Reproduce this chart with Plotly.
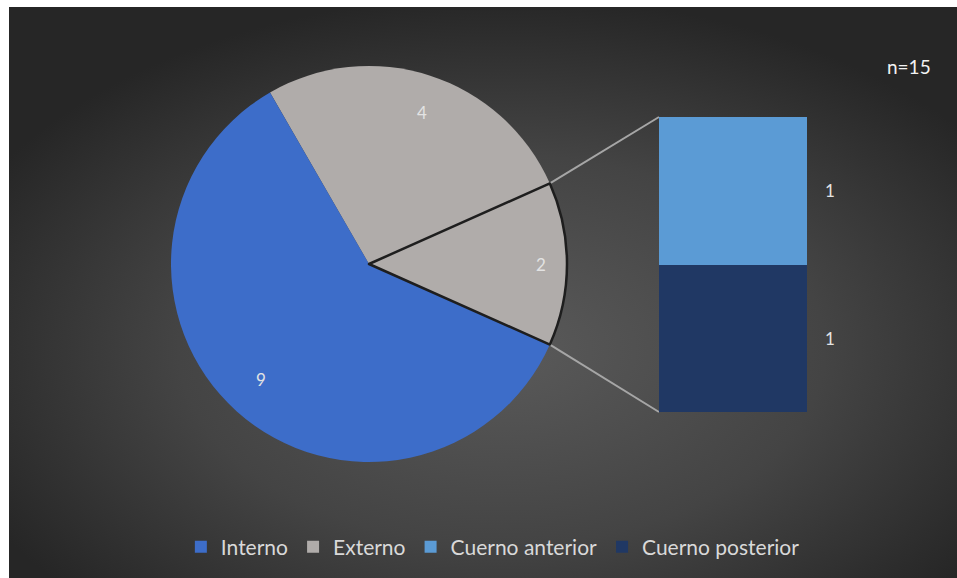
import base64
import math
import plotly.graph_objects as go

# ---- data ----
pie_labels = ["Externo", "Interno", "Otros"]
pie_values = [4, 9, 2]
pie_colors = ["#b0acaa", "#3d6dc9", "#b0acaa"]
split_index = 2   # the slice that is broken out into the bar

bar_labels = ["Cuerno posterior", "Cuerno anterior"]   # bottom -> top
bar_values = [1, 1]
bar_colors = ["#203864", "#5b9bd5"]

legend_labels = ["Interno", "Externo", "Cuerno anterior", "Cuerno posterior"]
legend_colors = {"Interno": "#3d6dc9", "Externo": "#b0acaa",
                 "Cuerno anterior": "#5b9bd5", "Cuerno posterior": "#203864"}
note_text = "n=15"

W, H = 957, 578
FONT = "Lato"
LABEL_COLOR = "#e3e3e3"

# ---- geometry (pixels) ----
cx, cy, R = 369, 264, 198
bar_x0, bar_x1, bar_top, bar_bot = 659, 807, 117, 412


def px(x):
    return x / W


def py(y):
    return 1 - y / H


total = sum(pie_values)
split_share = pie_values[split_index] / total * 360.0
before_split = sum(pie_values[:split_index]) / total * 360.0
# the split slice is centred on 3 o'clock; slices run counterclockwise
start_math = (-split_share / 2.0 - before_split) % 360.0
first_share = pie_values[0] / total * 360.0
# plotly (counterclockwise): first slice spans clockwise angles [rotation, rotation + share]
rotation = 90 - start_math - first_share

line_colors = ["rgba(0,0,0,0)"] * len(pie_values)
line_widths = [0] * len(pie_values)
line_colors[split_index] = "#1e1e1e"
line_widths[split_index] = 2.5

fig = go.Figure()

fig.add_trace(go.Pie(
    labels=pie_labels, values=pie_values, sort=False,
    direction="counterclockwise", rotation=rotation,
    marker=dict(colors=pie_colors, line=dict(color=line_colors, width=line_widths)),
    textinfo="none", hoverinfo="label+value", showlegend=False,
    domain=dict(x=[px(cx - R), px(cx + R)], y=[py(cy + R), py(cy - R)]),
))

# stacked bar for the split-off slice
for lab, val, col in zip(bar_labels, bar_values, bar_colors):
    fig.add_trace(go.Bar(
        x=[0], y=[val], name=lab, marker=dict(color=col, line=dict(width=0)),
        legendrank=legend_labels.index(lab) + 1, hoverinfo="name+y",
    ))

# legend-only entries for the pie categories
for lab in ["Interno", "Externo"]:
    fig.add_trace(go.Bar(
        x=[0], y=[0], name=lab, marker=dict(color=legend_colors[lab], line=dict(width=0)),
        legendrank=legend_labels.index(lab) + 1, hoverinfo="skip",
    ))

annotations = []
# pie value labels
cum = 0.0
for lab, val in zip(pie_labels, pie_values):
    mid = start_math + (cum + val / 2.0) / total * 360.0
    cum += val
    rr = 0.87 * R
    x = cx + rr * math.cos(math.radians(mid))
    y = cy - rr * math.sin(math.radians(mid))
    annotations.append(dict(x=px(x), y=py(y), xref="paper", yref="paper",
                            text=str(val), showarrow=False,
                            font=dict(family=FONT, size=17, color=LABEL_COLOR)))

# bar value labels
cum = 0.0
for val in bar_values:
    annotations.append(dict(x=0.5, y=cum + val / 2.0, xref="x", yref="y",
                            text=str(val), showarrow=False, xanchor="left", xshift=16,
                            font=dict(family=FONT, size=17, color=LABEL_COLOR)))
    cum += val

annotations.append(dict(x=px(933), y=py(53), xref="paper", yref="paper", text=note_text,
                        showarrow=False, xanchor="right",
                        font=dict(family=FONT, size=19, color="#f2f2f2")))

# connector lines from the split slice to the bar
shapes = []
half = split_share / 2.0
for ang, by in [(half, bar_top), (-half, bar_bot)]:
    x0 = cx + R * math.cos(math.radians(ang))
    y0 = cy - R * math.sin(math.radians(ang))
    shapes.append(dict(type="line", xref="paper", yref="paper",
                       x0=px(x0), y0=py(y0), x1=px(bar_x0), y1=py(by),
                       line=dict(color="#a6a6a6", width=2), layer="below"))

# radial gradient background
svg = (
    '<svg xmlns="http://www.w3.org/2000/svg" width="948" height="571" '
    'viewBox="0 0 948 571" preserveAspectRatio="none">'
    '<defs><radialGradient id="g" cx="52%" cy="60%" r="62%">'
    '<stop offset="0" stop-color="#5a5a5a"/>'
    '<stop offset="0.55" stop-color="#444444"/>'
    '<stop offset="1" stop-color="#262626"/>'
    '</radialGradient></defs>'
    '<rect width="948" height="571" fill="url(#g)"/></svg>'
)
src = "data:image/svg+xml;base64," + base64.b64encode(svg.encode()).decode()

fig.update_layout(
    width=W, height=H, autosize=False,
    margin=dict(l=0, r=0, t=0, b=0, pad=0),
    paper_bgcolor="white", plot_bgcolor="rgba(0,0,0,0)",
    barmode="stack", bargap=0,
    xaxis=dict(domain=[px(bar_x0), px(bar_x1)], range=[-0.5, 0.5], visible=False, fixedrange=True),
    yaxis=dict(domain=[py(bar_bot), py(bar_top)], range=[0, sum(bar_values)], visible=False, fixedrange=True),
    images=[dict(source=src, xref="paper", yref="paper", x=px(9), y=py(7),
                 sizex=1 - px(9), sizey=py(7), xanchor="left", yanchor="top",
                 sizing="stretch", layer="below")],
    shapes=shapes, annotations=annotations,
    showlegend=True,
    legend=dict(orientation="h", x=0.515, xanchor="center", y=py(547), yanchor="middle",
                bgcolor="rgba(0,0,0,0)", traceorder="normal",
                font=dict(family=FONT, size=21, color="#d9d9d9"),
                itemwidth=30, itemclick=False, itemdoubleclick=False),
)

fig.write_html("out.html")
